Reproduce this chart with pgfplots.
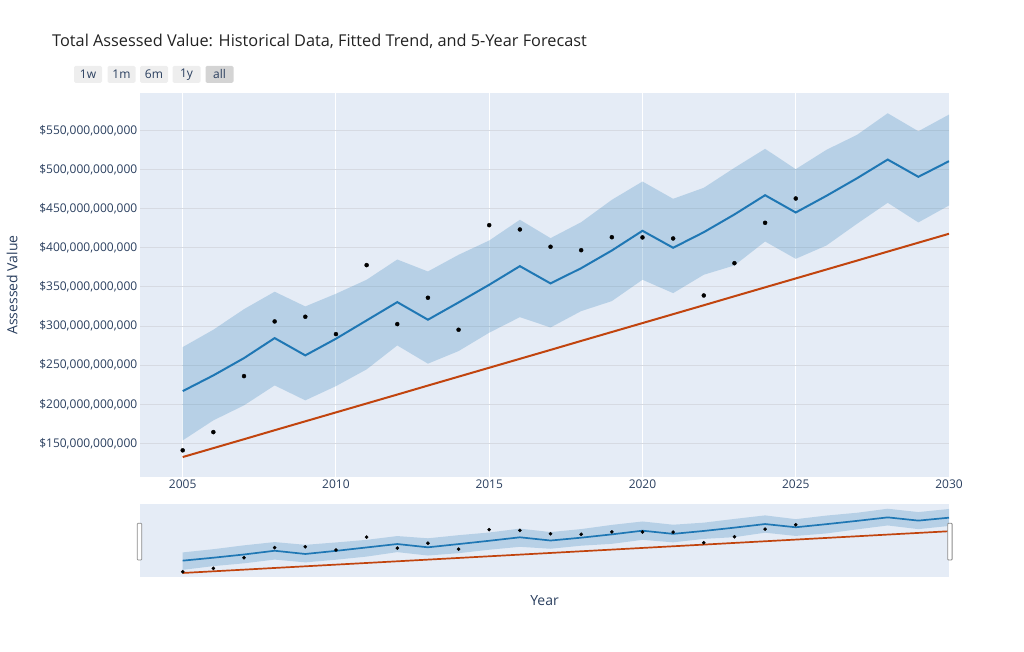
\documentclass[border=0pt]{standalone}
\usepackage{fontspec}
\setmainfont{Open Sans}
\usepackage{pgfplots}
\pgfplotsset{compat=1.18}
\usepackage{pgfplotstable}

\definecolor{bgc}{HTML}{E5ECF6}
\definecolor{lineblue}{HTML}{1F77B4}
\definecolor{trendc}{HTML}{C1440E}
\definecolor{gridh}{HTML}{D6DAE2}
\definecolor{fontc}{HTML}{2A3F5F}
\definecolor{titlec}{HTML}{222222}
\definecolor{btn}{HTML}{EEEEEE}
\definecolor{btnact}{HTML}{D4D4D4}
\definecolor{handle}{HTML}{8C8C8C}

% forecast: yhat with lower and upper bounds (billions)
\pgfplotstableread{
year yhat lo hi
2005 216.8 153.8 273.1
2006 236.9 179.4 295.3
2007 259.0 198.6 321.6
2008 284.6 224.1 343.9
2009 262.5 205.0 325.1
2010 283.8 223.2 341.3
2011 307.2 244.6 359.2
2012 330.6 275.2 385.1
2013 308.1 251.9 369.8
2014 330.2 268.0 391.1
2015 352.8 291.5 409.4
2016 376.6 311.4 435.9
2017 354.5 298.2 412.4
2018 374.0 319.1 432.8
2019 396.6 331.9 461.4
2020 421.8 359.2 484.8
2021 400.1 342.1 462.7
2022 420.0 365.6 476.8
2023 442.7 377.5 502.3
2024 467.3 408.1 526.6
2025 445.2 386.0 500.6
2026 466.5 403.0 525.3
2027 489.0 430.8 544.5
2028 512.9 457.6 572.1
2029 490.8 432.5 549.1
2030 510.8 454.2 570.4
}\fc

% uncertainty band outline: upper bound forward, lower bound backward
\pgfplotstableread{
year v
2005 273.1
2006 295.3
2007 321.6
2008 343.9
2009 325.1
2010 341.3
2011 359.2
2012 385.1
2013 369.8
2014 391.1
2015 409.4
2016 435.9
2017 412.4
2018 432.8
2019 461.4
2020 484.8
2021 462.7
2022 476.8
2023 502.3
2024 526.6
2025 500.6
2026 525.3
2027 544.5
2028 572.1
2029 549.1
2030 570.4
2030 454.2
2029 432.5
2028 457.6
2027 430.8
2026 403.0
2025 386.0
2024 408.1
2023 377.5
2022 365.6
2021 342.1
2020 359.2
2019 331.9
2018 319.1
2017 298.2
2016 311.4
2015 291.5
2014 268.0
2013 251.9
2012 275.2
2011 244.6
2010 223.2
2009 205.0
2008 224.1
2007 198.6
2006 179.4
2005 153.8
}\band

\pgfplotstableread{
year val
2005 141.1
2006 164.4
2007 236.0
2008 305.9
2009 311.9
2010 289.7
2011 377.9
2012 302.5
2013 336.2
2014 295.3
2015 429.0
2016 423.5
2017 401.4
2018 397.0
2019 413.6
2020 413.3
2021 412.0
2022 339.1
2023 380.4
2024 432.0
2025 463.1
}\actual

\pgfplotstableread{
year trend
2005 132.5
2006 143.9
2007 155.3
2008 166.8
2009 178.2
2010 189.6
2011 201.0
2012 212.4
2013 223.9
2014 235.3
2015 246.7
2016 258.1
2017 269.5
2018 281.0
2019 292.4
2020 303.8
2021 315.2
2022 326.6
2023 338.1
2024 349.5
2025 360.9
2026 372.3
2027 383.7
2028 395.2
2029 406.6
2030 418.0
}\trend

\begin{document}
\begin{tikzpicture}
\path[use as bounding box] (0pt,0pt) rectangle (1024pt,652pt);

% main axis
\begin{axis}[
  at={(140pt,175pt)}, anchor=south west,
  scale only axis, width=809pt, height=384pt,
  xmin=2003.607, xmax=2030, ymin=107, ymax=598,
  axis background/.style={fill=bgc},
  axis line style={draw=none},
  major tick length=0pt,
  xtick={2005,2010,2015,2020,2025,2030},
  xticklabels={2005,2010,2015,2020,2025,2030},
  ytick={150,200,250,300,350,400,450,500,550},
  yticklabels={{\$150,000,000,000},{\$200,000,000,000},{\$250,000,000,000},{\$300,000,000,000},{\$350,000,000,000},{\$400,000,000,000},{\$450,000,000,000},{\$500,000,000,000},{\$550,000,000,000}},
  xticklabel style={font=\fontsize{12}{14}\selectfont, text=fontc, inner sep=0pt, yshift=-3pt},
  yticklabel style={font=\fontsize{12}{14}\selectfont, text=fontc, inner sep=0pt, xshift=-2.5pt},
  xmajorgrids, ymajorgrids,
  x grid style={white, line width=1pt},
  y grid style={gridh, line width=1pt},
]
\addplot[fill=lineblue, fill opacity=0.23, draw=none] table[x=year, y=v] {\band};
\addplot[trendc, line width=2pt] table[x=year, y=trend] {\trend};
\addplot[lineblue, line width=2pt] table[x=year, y=yhat] {\fc};
\addplot[only marks, mark=*, mark size=2pt, black] table[x=year, y=val] {\actual};
\end{axis}

% range slider axis
\begin{axis}[
  at={(140pt,75pt)}, anchor=south west,
  scale only axis, width=809pt, height=72.5pt,
  xmin=2003.607, xmax=2030, ymin=105, ymax=601,
  axis background/.style={fill=bgc},
  axis line style={draw=none},
  major tick length=0pt,
  xtick={2005}, ytick={150},
  xticklabels={2005}, yticklabels={150},
  ticklabel style={opacity=0, font=\fontsize{6}{7}\selectfont},
]
\addplot[fill=lineblue, fill opacity=0.23, draw=none] table[x=year, y=v] {\band};
\addplot[trendc, line width=1.7pt] table[x=year, y=trend] {\trend};
\addplot[lineblue, line width=1.7pt] table[x=year, y=yhat] {\fc};
\addplot[only marks, mark=*, mark size=1.6pt, black] table[x=year, y=val] {\actual};
\end{axis}

% slider handles
\draw[handle, fill=white, line width=0.8pt, rounded corners=0.8pt] (137.3pt,92pt) rectangle (141.7pt,128.7pt);
\draw[handle, fill=white, line width=0.8pt, rounded corners=0.8pt] (947.7pt,92pt) rectangle (952.1pt,128.7pt);

% title
\node[anchor=base west, inner sep=0pt, font=\fontsize{16.3}{19}\selectfont, text=titlec] at (52pt,605pt) {Total Assessed Value: Historical Data, Fitted Trend, and 5-Year Forecast};

% range selector buttons
\foreach \cx/\lab in {88/1w, 121.5/1m, 154/6m, 186.5/1y} {
  \node[fill=btn, rounded corners=1.5pt, minimum width=28pt, minimum height=17pt, inner sep=0pt, font=\fontsize{12}{14}\selectfont, text=fontc] at (\cx pt,577.5pt) {\lab};
}
\node[fill=btnact, rounded corners=1.5pt, minimum width=28pt, minimum height=17pt, inner sep=0pt, font=\fontsize{12}{14}\selectfont, text=fontc] at (219.5pt,577.5pt) {all};

% axis titles
\node[rotate=90, inner sep=0pt, font=\fontsize{14}{16}\selectfont, text=fontc] at (12pt,367pt) {Assessed Value};
\node[inner sep=0pt, font=\fontsize{14}{16}\selectfont, text=fontc] at (544.5pt,51pt) {Year};
\end{tikzpicture}
\end{document}
